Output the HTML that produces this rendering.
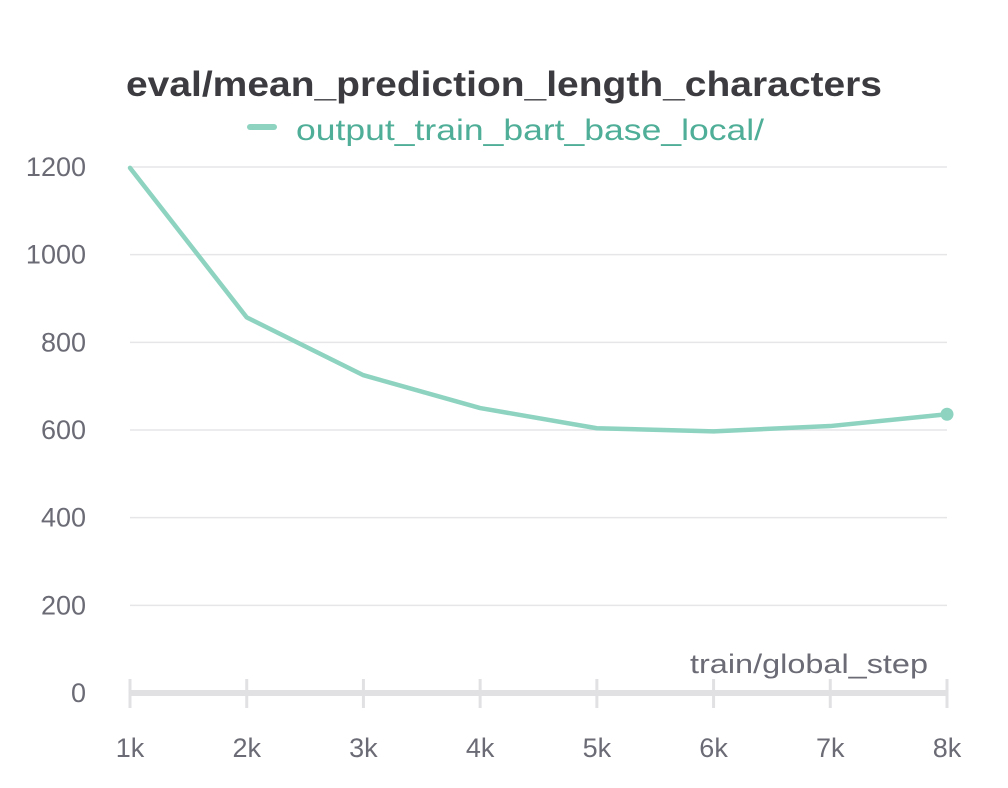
<!DOCTYPE html>
<html><head><meta charset="utf-8">
<style>
html,body{margin:0;padding:0;background:#fff;}
body{width:1008px;height:783px;overflow:hidden;font-family:"Liberation Sans",sans-serif;}
</style></head>
<body>
<svg id="chart" width="1008" height="783" xmlns="http://www.w3.org/2000/svg">
<text x="126" y="96" textLength="756" lengthAdjust="spacingAndGlyphs" font-family="Liberation Sans, sans-serif" font-weight="bold" font-size="35" fill="#3b3b40">eval/mean_prediction_length_characters</text>
<g>
<line x1="250" y1="127" x2="274" y2="127" stroke="#8dd3c0" stroke-width="6" stroke-linecap="round"/>
<text x="296" y="140" textLength="468" lengthAdjust="spacingAndGlyphs" font-family="Liberation Sans, sans-serif" font-size="30" fill="#4fae97">output_train_bart_base_local/</text>
</g>
<g id="grid"></g>
<g id="yticks"></g>
<g id="xaxis"></g>
<text x="690" y="673" textLength="238" lengthAdjust="spacingAndGlyphs" font-family="Liberation Sans, sans-serif" font-size="27" fill="#6b6b76">train/global_step</text>
<g id="series"></g>
</svg>
<script>
const steps=[1000,2000,3000,4000,5000,6000,7000,8000];
const values=[1198,857,725,650,604,597,609,636];
const yTicks=[0,200,400,600,800,1000,1200];
const xTickLabels=["1k","2k","3k","4k","5k","6k","7k","8k"];

const NS="http://www.w3.org/2000/svg";
const x0=130,x1=947,y0=693,yPer=(693-167)/1200;
function xs(v){return x0+(v-1000)/7000*(x1-x0);}
function ys(v){return y0-v*yPer;}
function mk(tag,attrs,parent){const e=document.createElementNS(NS,tag);for(const k in attrs)e.setAttribute(k,attrs[k]);parent.appendChild(e);return e;}
const grid=document.getElementById('grid'),yg=document.getElementById('yticks'),xg=document.getElementById('xaxis'),sg=document.getElementById('series');
yTicks.forEach(t=>{
  if(t>0){const l=mk('line',{x1:x0,x2:x1,y1:ys(t),y2:ys(t),stroke:'#e6e6e9','stroke-width':1.5},grid);
  
  }
  const tx=mk('text',{x:86,y:ys(t)+9,'text-anchor':'end','font-family':'Liberation Sans, sans-serif','font-size':27,fill:'#6b6b76'},yg);
  tx.textContent=t;
  
  
});
mk('line',{x1:x0,x2:x1,y1:y0,y2:y0,stroke:'#e1e1e4','stroke-width':6},xg);
steps.forEach((s,i)=>{
  const tk=mk('line',{x1:xs(s),x2:xs(s),y1:y0-14,y2:y0+15,stroke:'#e1e1e4','stroke-width':3},xg);
  
  
  const tx=mk('text',{x:xs(s),y:757,'text-anchor':'middle','font-family':'Liberation Sans, sans-serif','font-size':27,fill:'#6b6b76'},xg);
  tx.textContent=xTickLabels[i];
  
  
});
const pts=steps.map((s,i)=>xs(s)+','+ys(values[i])).join(' ');
const pl=mk('polyline',{points:pts,fill:'none',stroke:'#8dd3c0','stroke-width':4.5,'stroke-linejoin':'round','stroke-linecap':'round'},sg);


const last=steps.length-1;
const dot=mk('circle',{cx:xs(steps[last]),cy:ys(values[last]),r:6.5,fill:'#8dd3c0'},sg);


</script>
</body></html>
